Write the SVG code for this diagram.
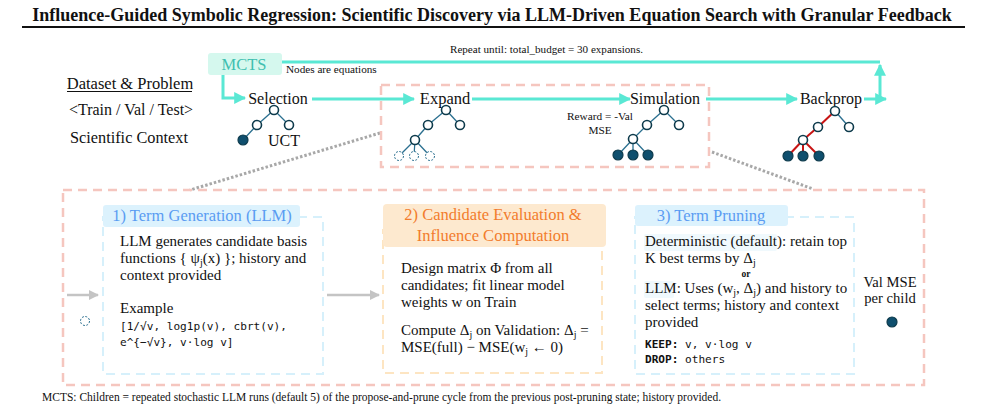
<svg xmlns="http://www.w3.org/2000/svg" width="985" height="411" viewBox="0 0 985 411">
<defs>
<style>
.t{font-family:"Liberation Serif","Times New Roman",serif;fill:#111}
.m{font-family:"DejaVu Sans Mono","Liberation Mono",monospace;fill:#111;font-size:11.1px}
.teal{stroke:#5ae8d4;stroke-width:3;fill:none}
.edge{stroke:#2a6f8f;stroke-width:1.3}
.red{stroke:#c81414;stroke-width:2}
.nd{fill:#fff;stroke:#0e3b4c;stroke-width:1.6}
.fl{fill:#0f4f6e;stroke:#0e3b4c;stroke-width:1.2}
.dsh{fill:#fff;stroke:#2a6f8f;stroke-width:1;stroke-dasharray:2,1.5}
.pink{fill:none;stroke:#f5c6bf;stroke-width:2.5;stroke-dasharray:9,6}
.bluebox{fill:none;stroke:#d6f0fb;stroke-width:2;stroke-dasharray:9,6}
.orbox{fill:none;stroke:#fde5c2;stroke-width:2;stroke-dasharray:9,6}
.dot{stroke:#a8a8a8;stroke-width:3;stroke-dasharray:2.5,2}
.gray{stroke:#c4c4c4;stroke-width:2.5}
.b{font-size:15px}
.h{font-family:"Liberation Serif","Times New Roman",serif;font-size:16.5px}
</style>
<marker id="ah" viewBox="0 0 10 10" refX="9" refY="5" markerWidth="4" markerHeight="4" orient="auto"><path d="M0,0L10,5L0,10z" fill="#5ae8d4"/></marker>
<marker id="ag" viewBox="0 0 10 10" refX="9" refY="5" markerWidth="4" markerHeight="4" orient="auto"><path d="M0,0L10,5L0,10z" fill="#c4c4c4"/></marker>
</defs>
<rect width="985" height="411" fill="#fff"/>
<text class="t" x="492" y="21" text-anchor="middle" font-size="18" font-weight="bold">Influence-Guided Symbolic Regression: Scientific Discovery via LLM-Driven Equation Search with Granular Feedback</text>
<line x1="22" y1="27" x2="965" y2="27" stroke="#111" stroke-width="2"/>

<g id="connectors">
<polyline class="teal" points="282,62 880,62"/>
<polyline class="teal" points="880,99 880,65" marker-end="url(#ah)"/>
<polyline class="teal" points="223,75 223,98 245,98" marker-end="url(#ah)"/>
<line class="teal" x1="312" y1="99" x2="414" y2="99" marker-end="url(#ah)"/>
<line class="teal" x1="472" y1="99" x2="630" y2="99" marker-end="url(#ah)"/>
<line class="teal" x1="706" y1="99" x2="797" y2="99" marker-end="url(#ah)"/>
<line class="teal" x1="864" y1="99" x2="886" y2="99" marker-end="url(#ah)"/>
<line class="dot" x1="380" y1="133" x2="190" y2="190"/>
<line class="dot" x1="712" y1="152" x2="813" y2="189"/>
<line class="gray" x1="67" y1="295" x2="98" y2="295" marker-end="url(#ag)"/>
<line class="gray" x1="327" y1="295" x2="379" y2="295" marker-end="url(#ag)"/>
</g>
<text class="t" x="450" y="53" font-size="11.1">Repeat until: total_budget = 30 expansions.</text>

<g id="dataset">
<text class="t" x="130" y="89" text-anchor="middle" font-size="16.5">Dataset &amp; Problem</text>
<line x1="67" y1="91.5" x2="192" y2="91.5" stroke="#111" stroke-width="1"/>
<text class="t" x="131" y="115" text-anchor="middle" font-size="16">&lt;Train / Val / Test&gt;</text>
<text class="t" x="129" y="143" text-anchor="middle" font-size="16.3">Scientific Context</text>
</g>

<g id="mcts">
<rect x="208" y="53" width="74" height="22" rx="3" fill="#d5f8ee"/>
<text x="244" y="70" text-anchor="middle" font-size="16.5" font-family="Liberation Serif,serif" fill="#3fbfb0">MCTS</text>
<text class="t" x="286" y="73" font-size="11.2">Nodes are equations</text>
</g>

<g id="selection">
<text class="t" x="278" y="104" text-anchor="middle" font-size="16">Selection</text>
<line class="edge" x1="274" y1="110" x2="257" y2="125"/>
<line class="edge" x1="274" y1="110" x2="289" y2="125"/>
<line class="edge" x1="257" y1="125" x2="243" y2="140"/>
<circle class="nd" cx="274" cy="110" r="4.5"/>
<circle class="nd" cx="257" cy="125" r="4.5"/>
<circle class="nd" cx="289" cy="125" r="4.5"/>
<circle class="fl" cx="243" cy="140" r="5"/>
<text class="t" x="268" y="146" font-size="16">UCT</text>
</g>

<rect id="expand-sim-frame" class="pink" x="381" y="85" width="328" height="82"/>

<g id="expand">
<text class="t" x="445" y="104" text-anchor="middle" font-size="16.5">Expand</text>
<line class="edge" x1="446" y1="110" x2="428" y2="125"/>
<line class="edge" x1="446" y1="110" x2="460" y2="125"/>
<line class="edge" x1="428" y1="125" x2="415" y2="140"/>
<line class="edge" x1="415" y1="140" x2="399" y2="156"/>
<line class="edge" x1="415" y1="140" x2="414" y2="156"/>
<line class="edge" x1="415" y1="140" x2="430" y2="156"/>
<circle class="nd" cx="446" cy="110" r="4.5"/>
<circle class="nd" cx="428" cy="125" r="4.5"/>
<circle class="nd" cx="460" cy="125" r="4.5"/>
<circle class="nd" cx="415" cy="140" r="4.5"/>
<circle class="dsh" cx="399" cy="156" r="4.5"/>
<circle class="dsh" cx="414" cy="156" r="4.5"/>
<circle class="dsh" cx="430" cy="156" r="4.5"/>
</g>

<g id="simulation">
<text class="t" x="665" y="104" text-anchor="middle" font-size="16">Simulation</text>
<text class="t" x="600" y="120" text-anchor="middle" font-size="11.3">Reward = -Val</text>
<text class="t" x="600" y="134" text-anchor="middle" font-size="11.3">MSE</text>
<line class="edge" x1="664" y1="110" x2="647" y2="125"/>
<line class="edge" x1="664" y1="110" x2="679" y2="125"/>
<line class="edge" x1="647" y1="125" x2="633" y2="139"/>
<line class="edge" x1="633" y1="139" x2="618" y2="155"/>
<line class="edge" x1="633" y1="139" x2="633" y2="155"/>
<line class="edge" x1="633" y1="139" x2="648" y2="155"/>
<circle class="nd" cx="664" cy="110" r="4.5"/>
<circle class="nd" cx="647" cy="125" r="4.5"/>
<circle class="nd" cx="679" cy="125" r="4.5"/>
<circle class="nd" cx="633" cy="139" r="4.5"/>
<circle class="fl" cx="618" cy="155" r="5"/>
<circle class="fl" cx="633" cy="155" r="5"/>
<circle class="fl" cx="648" cy="155" r="5"/>
</g>

<g id="backprop">
<text class="t" x="831" y="104" text-anchor="middle" font-size="16">Backprop</text>
<line class="red" x1="835" y1="111" x2="818" y2="127"/>
<line class="edge" x1="835" y1="111" x2="849" y2="127"/>
<line class="red" x1="818" y1="127" x2="803" y2="140"/>
<line class="red" x1="803" y1="140" x2="788" y2="156"/>
<line class="red" x1="803" y1="140" x2="803" y2="156"/>
<line class="red" x1="803" y1="140" x2="819" y2="156"/>
<circle class="nd" cx="835" cy="111" r="4.5"/>
<circle class="nd" cx="818" cy="127" r="4.5"/>
<circle class="nd" cx="849" cy="127" r="4.5"/>
<circle class="nd" cx="803" cy="140" r="4.5"/>
<circle class="fl" cx="788" cy="156" r="5"/>
<circle class="fl" cx="803" cy="156" r="5"/>
<circle class="fl" cx="819" cy="156" r="5"/>
</g>

<rect id="cycle-frame" class="pink" x="63" y="190" width="861" height="195"/>
<circle class="dsh" cx="85" cy="321" r="4.5" stroke="#3a7fb0"/>

<g id="term-generation">
<rect class="bluebox" x="103" y="217" width="220" height="157"/>
<rect x="103" y="205" width="197" height="22" rx="3" fill="#dcf2fd"/>
<text x="202" y="221" text-anchor="middle" class="h" fill="#5a9cf2">1) Term Generation (LLM)</text>
<text class="t b" x="120" y="246">LLM generates candidate basis</text>
<text class="t b" x="120" y="263">functions { ψ<tspan font-size="10" dy="3">j</tspan><tspan dy="-3">(x) }; history and</tspan></text>
<text class="t b" x="120" y="280">context provided</text>
<text class="t b" x="120" y="313">Example</text>
<text class="m" x="120" y="330">[1/√v, log1p(v), cbrt(v),</text>
<text class="m" x="120" y="346">e^{−√v}, v·log v]</text>
</g>

<g id="candidate-evaluation">
<rect class="orbox" x="383" y="230" width="219" height="143"/>
<rect x="383" y="204" width="223" height="43" rx="4" fill="#fde9cf"/>
<text x="493" y="220" text-anchor="middle" class="h" font-size="16.2" fill="#f27c2c">2) Candidate Evaluation &amp;</text>
<text x="493" y="241" text-anchor="middle" class="h" font-size="16.2" fill="#f27c2c">Influence Computation</text>
<text class="t b" x="401" y="273">Design matrix Φ from all</text>
<text class="t b" x="401" y="290">candidates; fit linear model</text>
<text class="t b" x="401" y="307">weights w on Train</text>
<text class="t b" x="401" y="335">Compute Δ<tspan font-size="10" dy="3">j</tspan><tspan dy="-3"> on Validation: Δ</tspan><tspan font-size="10" dy="3">j</tspan><tspan dy="-3"> =</tspan></text>
<text class="t b" x="401" y="352">MSE(full) − MSE(w<tspan font-size="10" dy="3">j</tspan><tspan dy="-3"> ← 0)</tspan></text>
</g>

<g id="term-pruning">
<rect class="bluebox" x="635" y="217" width="219" height="157"/>
<rect x="635" y="205" width="153" height="21" rx="3" fill="#dcf2fd"/>
<text x="711" y="221" text-anchor="middle" class="h" fill="#5a9cf2">3) Term Pruning</text>
<rect x="644" y="234" width="133" height="17" rx="2" fill="#f0f9fd"/>
<rect x="644" y="281" width="30" height="17" rx="2" fill="#f0f9fd"/>
<text class="t b" x="645" y="246" font-size="14.5">Deterministic (default): retain top</text>
<text class="t b" x="645" y="263">K best terms by Δ<tspan font-size="10" dy="3">j</tspan></text>
<text class="t" x="746" y="277" text-anchor="middle" font-size="9.5" font-weight="bold">or</text>
<text class="t b" x="645" y="293">LLM: Uses (w<tspan font-size="10" dy="3">j</tspan><tspan dy="-3">, Δ</tspan><tspan font-size="10" dy="3">j</tspan><tspan dy="-3">) and history to</tspan></text>
<text class="t b" x="645" y="310">select terms; history and context</text>
<text class="t b" x="645" y="327">provided</text>
<text class="m" x="645" y="348"><tspan font-weight="bold">KEEP:</tspan> v, v·log v</text>
<text class="m" x="645" y="363"><tspan font-weight="bold">DROP:</tspan> others</text>
</g>

<g id="val-mse">
<text class="t" x="890" y="287" text-anchor="middle" font-size="14.6">Val MSE</text>
<text class="t" x="890" y="303" text-anchor="middle" font-size="14.6">per child</text>
<circle class="fl" cx="892" cy="322" r="5"/>
</g>

<text class="t" x="42" y="401" font-size="11.5">MCTS: Children = repeated stochastic LLM runs (default 5) of the propose-and-prune cycle from the previous post-pruning state; history provided.</text>
</svg>
